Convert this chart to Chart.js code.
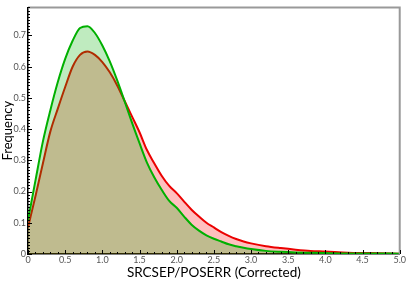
<!DOCTYPE html>
<html>
<head>
<meta charset="utf-8">
<script src="https://cdn.jsdelivr.net/npm/chart.js@4"></script>
<style>
  html, body { margin: 0; padding: 0; background: #fff; }
  #wrap { width: 407px; height: 281px; }
</style>
</head>
<body>
<div id="wrap"><canvas id="myChart" width="407" height="281"></canvas></div>
<script>
// x positions of the density samples
var xs = [0, 0.1, 0.2, 0.3, 0.4, 0.5, 0.6, 0.7, 0.8, 0.9, 1.0, 1.1, 1.2, 1.3, 1.4, 1.5, 1.6, 1.7, 1.8, 1.9,
  2.0, 2.1, 2.2, 2.3, 2.4, 2.5, 2.6, 2.7, 2.8, 2.9, 3.0, 3.2, 3.4, 3.6, 3.8, 4.0, 4.3, 4.6, 5.0];
var redVals = [0.085, 0.185, 0.29, 0.392, 0.465, 0.535, 0.6, 0.638, 0.649, 0.638, 0.615, 0.582, 0.54, 0.49, 0.44, 0.39, 0.333, 0.29, 0.25, 0.218,
  0.195, 0.168, 0.142, 0.12, 0.1, 0.085, 0.07, 0.058, 0.048, 0.04, 0.034, 0.025, 0.019, 0.014, 0.01, 0.008, 0.004, 0.003, 0.001];
var greenVals = [0.108, 0.235, 0.36, 0.46, 0.55, 0.625, 0.683, 0.724, 0.73, 0.708, 0.668, 0.617, 0.556, 0.489, 0.42, 0.355, 0.293, 0.245, 0.205, 0.17,
  0.148, 0.12, 0.094, 0.075, 0.06, 0.049, 0.04, 0.031, 0.025, 0.02, 0.016, 0.01, 0.007, 0.005, 0.004, 0.003, 0.002, 0.002, 0.001];
var yTicks = [0, 0.1, 0.2, 0.3, 0.4, 0.5, 0.6, 0.7];
var xTicks = [0, 0.5, 1.0, 1.5, 2.0, 2.5, 3.0, 3.5, 4.0, 4.5, 5.0];

function toPoints(vals) {
  return vals.map(function(v, i) { return { x: xs[i], y: v }; });
}

function fmt(v) {
  return v == 0 ? '0' : v.toFixed(1);
}

// gray frame on top/right + inward ticks
var framePlugin = {
  id: 'frame',
  afterDraw: function(chart) {
    var ctx = chart.ctx;
    var a = chart.chartArea;
    var xs_ = chart.scales.x, ys_ = chart.scales.y;
    ctx.save();
    ctx.strokeStyle = '#999';
    ctx.lineWidth = 2;
    ctx.beginPath();
    ctx.moveTo(a.left, a.top);
    ctx.lineTo(a.right, a.top);
    ctx.lineTo(a.right, a.bottom);
    ctx.stroke();

    ctx.strokeStyle = '#000';
    ctx.lineWidth = 1;
    ctx.beginPath();
    for (var i = 0; i <= 79; i++) {
      var y = Math.round(ys_.getPixelForValue(i / 100)) + 0.5;
      var len = (i % 10 == 0) ? 4 : 2;
      ctx.moveTo(a.left, y);
      ctx.lineTo(a.left + len, y);
    }
    for (var j = 0; j <= 50; j++) {
      var x = Math.round(xs_.getPixelForValue(j / 10)) + 0.5;
      var l = (j % 5 == 0) ? 4 : 2;
      ctx.moveTo(x, a.bottom);
      ctx.lineTo(x, a.bottom - l);
    }
    ctx.stroke();
    ctx.restore();
  }
};

var ctx = document.getElementById('myChart');
var myChart = new Chart(ctx, {
  type: 'line',
  data: {
    datasets: [{
      label: 'red',
      data: toPoints(redVals),
      borderColor: 'rgb(235, 0, 0)',
      backgroundColor: 'rgba(255, 0, 0, 0.25)',
      borderWidth: 2,
      fill: 'origin',
      pointRadius: 0,
      cubicInterpolationMode: 'monotone',
      order: 2
    }, {
      label: 'green',
      data: toPoints(greenVals),
      borderColor: 'rgb(0, 176, 0)',
      backgroundColor: 'rgba(0, 176, 0, 0.25)',
      borderWidth: 2,
      fill: 'origin',
      pointRadius: 0,
      cubicInterpolationMode: 'monotone',
      order: 1
    }]
  },
  options: {
    responsive: false,
    animation: false,
    layout: { padding: { top: 3, right: 6, left: 0, bottom: 0 } },
    plugins: { legend: { display: false }, tooltip: { enabled: false } },
    scales: {
      x: {
        type: 'linear',
        min: 0,
        max: 5,
        afterBuildTicks: function(s) { s.ticks = xTicks.map(function(v) { return { value: v }; }); },
        afterFit: function(s) { s.height = 27; },
        ticks: {
          callback: function(v) { return fmt(v); },
          font: { family: 'Lato', size: 9 },
          color: '#555',
          padding: 1,
          maxRotation: 0
        },
        grid: { drawOnChartArea: false, drawTicks: false },
        border: { color: '#000', width: 1.5 },
        title: {
          display: true,
          text: 'SRCSEP/POSERR (Corrected)',
          font: { family: 'Lato', size: 13.5 },
          color: '#000',
          padding: 0
        }
      },
      y: {
        min: 0,
        max: 0.79,
        afterBuildTicks: function(s) { s.ticks = yTicks.map(function(v) { return { value: v }; }); },
        afterFit: function(s) { s.width = 28; },
        ticks: {
          callback: function(v) { return fmt(v); },
          font: { family: 'Lato', size: 9 },
          color: '#555',
          padding: 2
        },
        grid: { drawOnChartArea: false, drawTicks: false },
        border: { color: '#000', width: 1.5 },
        title: {
          display: true,
          text: 'Frequency',
          font: { family: 'Lato', size: 13 },
          color: '#000',
          padding: 0
        }
      }
    }
  },
  plugins: [framePlugin]
});
</script>
</body>
</html>
